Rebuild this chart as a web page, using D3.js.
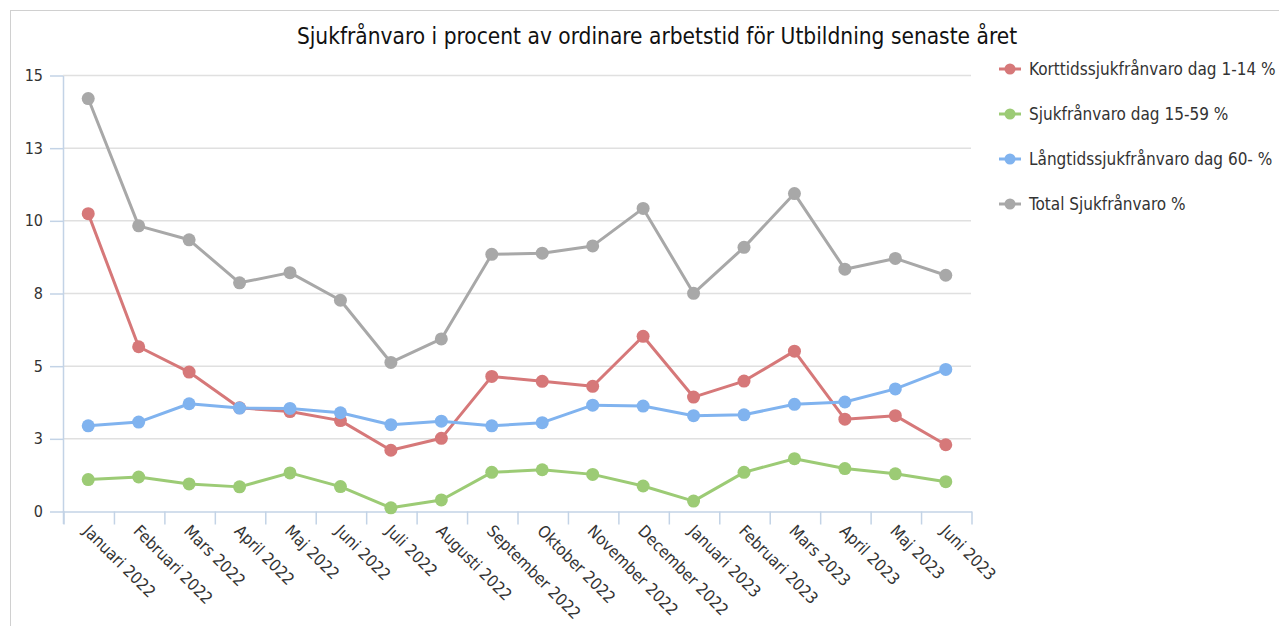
<!DOCTYPE html>
<html>
<head>
<meta charset="utf-8">
<script src="https://cdn.jsdelivr.net/npm/d3@7"></script>
<style>
  body { margin: 0; background: #fff; }
  text { font-family: "DejaVu Sans Condensed", "DejaVu Sans", sans-serif; font-stretch: condensed; fill: #333; }
</style>
</head>
<body>
<div id="chart"></div>
<script>
  // Months on the x axis
  const months = ["Januari 2022", "Februari 2022", "Mars 2022", "April 2022", "Maj 2022", "Juni 2022",
    "Juli 2022", "Augusti 2022", "September 2022", "Oktober 2022", "November 2022", "December 2022",
    "Januari 2023", "Februari 2023", "Mars 2023", "April 2023", "Maj 2023", "Juni 2023"];

  // Series values (percent)
  const korttid = [10.23, 5.65, 4.78, 3.55, 3.42, 3.11, 2.09, 2.50, 4.63, 4.46, 4.29, 6.01, 3.92, 4.47, 5.50, 3.16, 3.28, 2.28];
  const dag15_59 = [1.08, 1.17, 0.93, 0.83, 1.31, 0.84, 0.11, 0.38, 1.33, 1.42, 1.26, 0.86, 0.34, 1.33, 1.80, 1.46, 1.28, 1.01];
  const langtid = [2.93, 3.06, 3.69, 3.54, 3.53, 3.38, 2.97, 3.09, 2.93, 3.04, 3.64, 3.61, 3.28, 3.31, 3.67, 3.75, 4.20, 4.87];
  const total = [14.19, 9.81, 9.33, 7.85, 8.20, 7.25, 5.11, 5.92, 8.83, 8.87, 9.12, 10.41, 7.49, 9.07, 10.92, 8.32, 8.69, 8.11];

  const seriesNames = ["Korttidssjukfrånvaro dag 1-14 %", "Sjukfrånvaro dag 15-59 %", "Långtidssjukfrånvaro dag 60- %", "Total Sjukfrånvaro %"];
  const seriesColors = ["#d67879", "#9ccb75", "#80b3ef", "#a8a8a8"];

  const yTicks = [0, 2.5, 5, 7.5, 10, 12.5, 15];

  const title = "Sjukfrånvaro i procent av ordinare arbetstid för Utbildning senaste året";

  const width = 1279;
  const height = 626;
  const plot = { left: 63, right: 971, top: 75, bottom: 511 };
  const axisColor = "#c3d3e6";
  const gridColor = "#e0e0e0";

  const svg = d3.select("#chart")
    .append("svg")
    .attr("width", width)
    .attr("height", height);

  // outer frame (cut off at right and bottom)
  svg.append("rect")
    .attr("x", 10.5)
    .attr("y", 10.5)
    .attr("width", 1400)
    .attr("height", 800)
    .attr("fill", "none")
    .attr("stroke", "#d0d0d0");

  // Title
  svg.append("text")
    .attr("x", 657)
    .attr("y", 44)
    .attr("text-anchor", "middle")
    .attr("font-size", "22.5px")
    .style("fill", "#111")
    .text(title);

  // Scales
  const x = d3.scaleBand()
    .domain(months)
    .range([plot.left, plot.right]);
  const xPos = m => x(m) + x.bandwidth() / 2;

  const y = d3.scaleLinear()
    .domain([0, 15])
    .range([plot.bottom, plot.top]);

  // Gridlines
  svg.append("g")
    .selectAll("line")
    .data(yTicks.filter(d => d > 0))
    .enter()
    .append("line")
    .attr("x1", plot.left)
    .attr("x2", plot.right)
    .attr("y1", d => y(d) + 0.5)
    .attr("y2", d => y(d) + 0.5)
    .attr("stroke", gridColor)
    .attr("stroke-width", 1.5);

  // Y axis
  svg.append("g")
    .attr("transform", `translate(${plot.left}, 0.5)`)
    .call(d3.axisLeft(y)
      .tickValues(yTicks)
      .tickFormat(d => Math.round(d))
      .tickSize(13)
      .tickSizeOuter(0)
      .tickPadding(7))
    .call(g => g.select(".domain").attr("stroke", axisColor).attr("stroke-width", 1.5))
    .call(g => g.selectAll(".tick line").attr("stroke", axisColor).attr("stroke-width", 1.5))
    .call(g => g.selectAll(".tick text")
      .attr("font-size", "16px")
      .attr("font-family", null)
      .style("fill", "#333"));

  // X axis: boundary ticks between months
  const xEdges = d3.scaleLinear()
    .domain([0, months.length])
    .range([plot.left, plot.right]);
  svg.append("g")
    .attr("transform", `translate(0.5, ${plot.bottom + 0.5})`)
    .call(d3.axisBottom(xEdges)
      .tickValues(d3.range(months.length + 1))
      .tickFormat("")
      .tickSize(13)
      .tickSizeOuter(0))
    .call(g => g.select(".domain").attr("stroke", axisColor).attr("stroke-width", 1.5))
    .call(g => g.selectAll(".tick line").attr("stroke", axisColor).attr("stroke-width", 1.5));

  // left axis extends below baseline
  svg.append("line")
    .attr("x1", plot.left + 0.5)
    .attr("x2", plot.left + 0.5)
    .attr("y1", plot.bottom)
    .attr("y2", plot.bottom + 13)
    .attr("stroke", axisColor)
    .attr("stroke-width", 1.5);

  // X labels, rotated 45 degrees
  svg.append("g")
    .selectAll("text")
    .data(months)
    .enter()
    .append("text")
    .attr("transform", d => `translate(${xPos(d) - 2}, ${plot.bottom + 17}) rotate(45)`)
    .attr("dy", "0.35em")
    .attr("font-size", "16.5px")
    .text(d => d);

  // Lines and points
  const seriesData = [korttid, dag15_59, langtid, total];
  const line = d3.line()
    .x((d, i) => xPos(months[i]))
    .y(d => y(d));

  seriesData.forEach((values, s) => {
    const g = svg.append("g");
    g.append("path")
      .datum(values)
      .attr("d", line)
      .attr("fill", "none")
      .attr("stroke", seriesColors[s])
      .attr("stroke-width", 3)
      .attr("stroke-linejoin", "round");
    g.selectAll("circle")
      .data(values)
      .enter()
      .append("circle")
      .attr("cx", (d, i) => xPos(months[i]))
      .attr("cy", d => y(d))
      .attr("r", 6.5)
      .attr("fill", seriesColors[s]);
  });

  // Legend
  const legend = svg.append("g")
    .attr("transform", "translate(999, 69)");
  seriesNames.forEach((name, i) => {
    const row = legend.append("g")
      .attr("transform", `translate(0, ${i * 45})`);
    row.append("line")
      .attr("x1", 0)
      .attr("x2", 22)
      .attr("stroke", seriesColors[i])
      .attr("stroke-width", 3);
    row.append("circle")
      .attr("cx", 11)
      .attr("r", 5.5)
      .attr("fill", seriesColors[i]);
    row.append("text")
      .attr("x", 30)
      .attr("dy", "0.35em")
      .attr("font-size", "17px")
      .text(name);
  });
</script>
</body>
</html>
